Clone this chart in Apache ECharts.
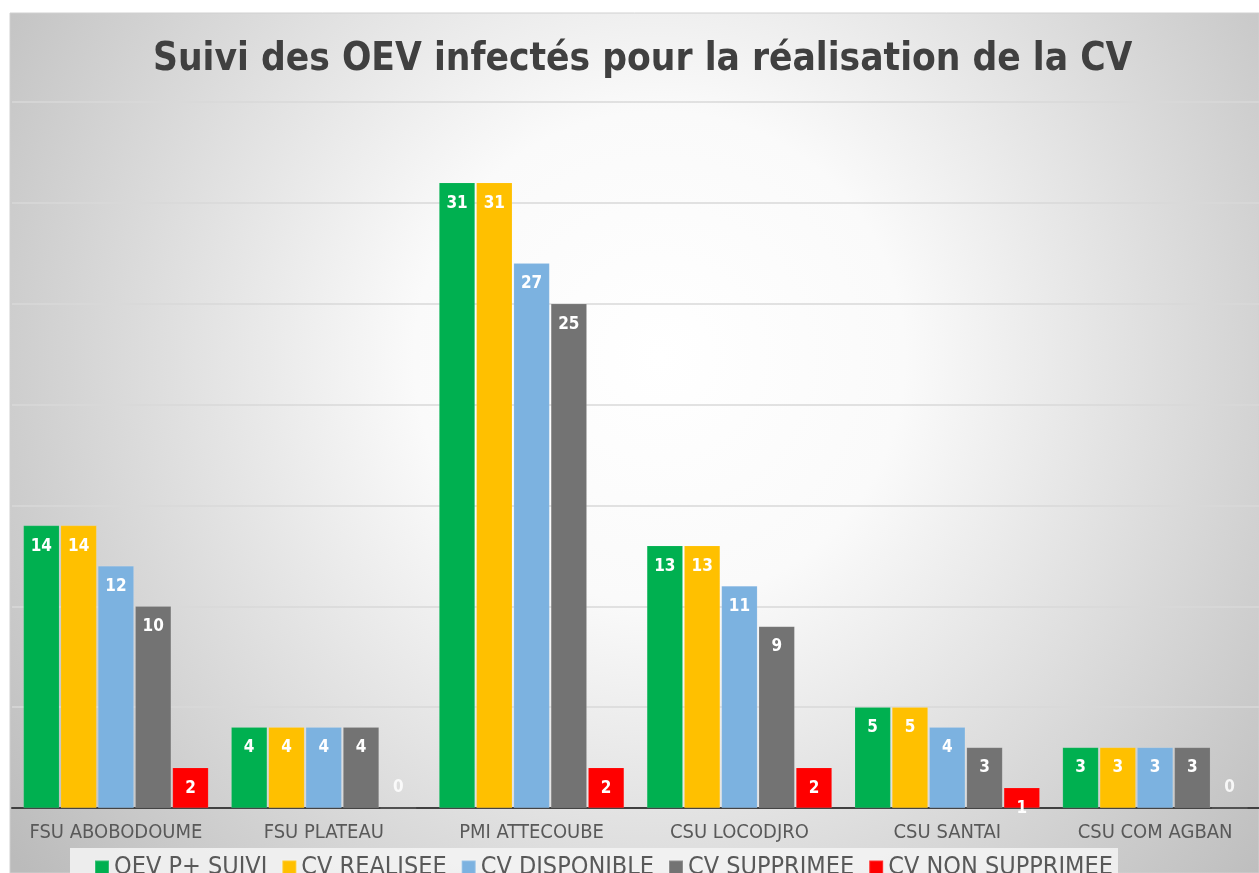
<!DOCTYPE html>
<html><head><meta charset="utf-8">
<script src="https://cdn.jsdelivr.net/npm/echarts@6/dist/echarts.min.js"></script>
<style>html,body{margin:0;padding:0;background:#fff;}#c{width:1259px;height:873px;}</style>
</head><body><div id="c"></div>
<script>
const categories = ['FSU ABOBODOUME','FSU PLATEAU','PMI ATTECOUBE','CSU LOCODJRO','CSU SANTAI','CSU COM AGBAN'];
const seriesNames = ['OEV P+ SUIVI','CV REALISEE','CV DISPONIBLE','CV SUPPRIMEE','CV NON SUPPRIMEE'];
const oevSuivi = [14,4,31,13,5,3];
const cvRealisee = [14,4,31,13,5,3];
const cvDisponible = [12,4,27,11,4,3];
const cvSupprimee = [10,4,25,9,3,3];
const cvNonSupprimee = [2,0,2,2,1,0];
const colors = ['#00b050','#ffc000','#7cb2e0','#737373','#ff0000'];
const values = [oevSuivi,cvRealisee,cvDisponible,cvSupprimee,cvNonSupprimee];
const FONT = '"DejaVu Sans Condensed", "DejaVu Sans", sans-serif';

const chart = echarts.init(document.getElementById('c'));
chart.setOption({
  animation:false,
  textStyle:{fontFamily:FONT},
  graphic:[{
    type:'rect', z:-10, silent:true,
    shape:{x:10,y:13,width:1249,height:860},
    style:{fill:{type:'radial',x:0.52,y:0.40,r:0.95,colorStops:[
      {offset:0,color:'#ffffff'},{offset:0.3,color:'#fafafa'},{offset:1,color:'#bbbbbb'}]},
      stroke:'#d0d0d0',lineWidth:1}
  },{
    type:'rect', z:-5, silent:true,
    shape:{x:70,y:848,width:1048,height:30},
    style:{fill:'rgba(245,245,245,0.85)'}
  }],
  title:{text:'Suivi des OEV infectés pour la réalisation de la CV',left:148,top:35,
    textStyle:{fontFamily:FONT,fontSize:38.5,fontWeight:'bold',color:'#404040'}},
  legend:{data:seriesNames,top:855,left:94,padding:0,itemWidth:14,itemHeight:14,itemGap:14,icon:'rect',
    textStyle:{fontFamily:FONT,fontSize:25,color:'#595959'}},
  grid:{left:12,right:0,top:102,bottom:65,containLabel:false},
  xAxis:{type:'category',data:categories,
    axisLine:{lineStyle:{color:'#404040',width:2}},axisTick:{show:false},
    axisLabel:{interval:0,fontFamily:FONT,fontSize:20,color:'#595959',margin:15}},
  yAxis:{type:'value',min:0,max:35,interval:5,axisLabel:{show:false},axisLine:{show:false},axisTick:{show:false},
    splitLine:{lineStyle:{color:'#d9d9d9',width:1.5}}},
  series: seriesNames.map((n,i)=>({
    name:n,type:'bar',barGap:'4%',barCategoryGap:'11%',
    itemStyle:{color:colors[i],borderColor:'rgba(255,255,255,0.2)',borderWidth:0.5},
    data: values[i].map(v=>v===0?{value:v,label:{position:'top',distance:12,color:'rgba(255,255,255,0.85)'}}:v),
    label:{show:true,position:'insideTop',distance:12,color:'#ffffff',fontSize:17,fontWeight:'bold',fontFamily:FONT}
  }))
});
</script></body></html>
